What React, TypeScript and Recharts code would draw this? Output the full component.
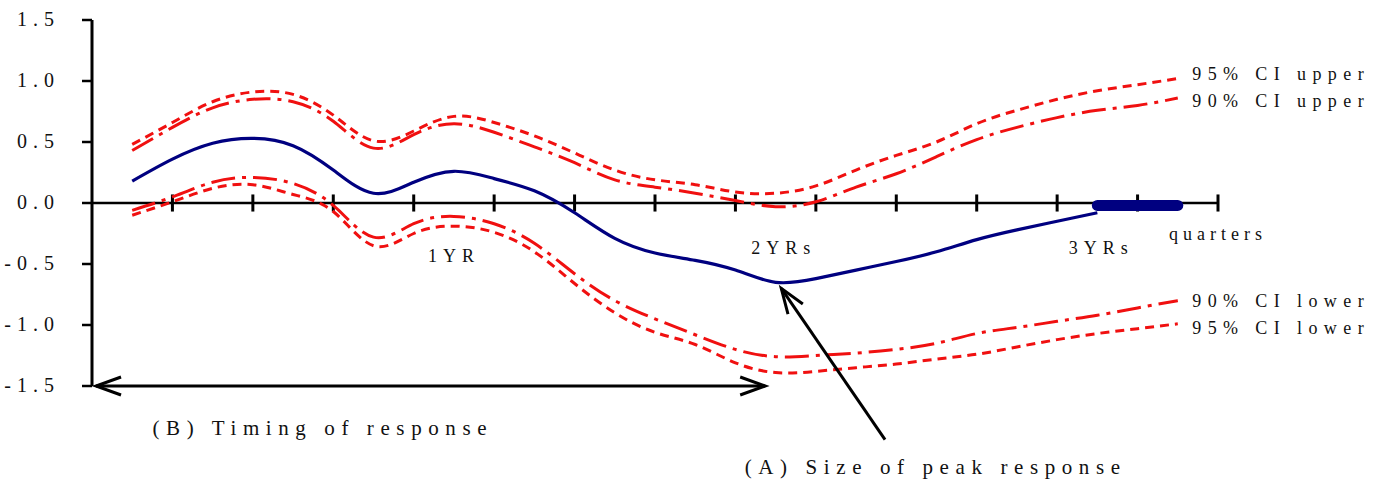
import React from "react";
import { LineChart, Line, XAxis, YAxis, ReferenceLine, ReferenceDot } from "recharts";

// horizon in quarters (half-quarter steps)
const quarters = [
  0.5, 1, 1.5, 2, 2.5, 3, 3.5, 4, 4.5, 5, 5.5, 6, 6.5, 7, 7.5, 8, 8.5, 9, 9.5, 10,
  10.5, 11, 11.5, 12, 12.5, 13, 13.5,
];

const response = [
  0.18, 0.36, 0.49, 0.53, 0.47, 0.27, 0.08, 0.17, 0.26, 0.2, 0.1, -0.08, -0.29, -0.41,
  -0.47, -0.55, -0.65, -0.62, -0.55, -0.48, -0.4, -0.3, -0.22, -0.15, -0.08,
];

const tail = [-0.02, -0.02, -0.02]; // quarters 12.5 - 13.5

const ci95Upper = [
  0.48, 0.66, 0.83, 0.91, 0.89, 0.72, 0.51, 0.59, 0.71, 0.66, 0.55, 0.41, 0.27, 0.19,
  0.15, 0.09, 0.08, 0.14, 0.27, 0.39, 0.5, 0.65, 0.76, 0.85, 0.92, 0.97, 1.02,
];
const ci90Upper = [
  0.43, 0.62, 0.78, 0.85, 0.83, 0.67, 0.45, 0.56, 0.65, 0.58, 0.46, 0.33, 0.19, 0.13,
  0.08, 0.02, -0.03, 0.01, 0.13, 0.24, 0.38, 0.52, 0.62, 0.7, 0.76, 0.8, 0.86,
];
const ci90Lower = [
  -0.06, 0.05, 0.17, 0.21, 0.16, -0.02, -0.28, -0.17, -0.11, -0.17, -0.33, -0.58, -0.8,
  -0.95, -1.08, -1.2, -1.26, -1.25, -1.23, -1.2, -1.15, -1.07, -1.02, -0.97, -0.92,
  -0.86, -0.8,
];
const ci95Lower = [
  -0.1, 0.01, 0.12, 0.15, 0.07, -0.07, -0.35, -0.25, -0.19, -0.24, -0.4, -0.66, -0.9,
  -1.06, -1.16, -1.31, -1.39, -1.38, -1.35, -1.32, -1.28, -1.24, -1.18, -1.12, -1.07,
  -1.03, -0.99,
];

const quarterTicks = [1, 2, 3, 4, 5, 6, 7, 8, 9, 10, 11, 12, 13, 14];
const yTicks = [-1.5, -1, -0.5, 0, 0.5, 1, 1.5];

const rows = quarters.map((q, i) => ({
  q,
  response: response[i] ?? null,
  tail: i >= 24 ? tail[i - 24] : null,
  ci95Upper: ci95Upper[i],
  ci90Upper: ci90Upper[i],
  ci90Lower: ci90Lower[i],
  ci95Lower: ci95Lower[i],
}));

const FONT = "'Liberation Serif', 'Times New Roman', serif";
const RED = "#f01010";

const YTick = (props: any) => {
  const { x, y, payload } = props;
  return (
    <text x={x} y={y} dx={6} dy={6} textAnchor="end" fontFamily={FONT} fontSize={20} fill="#111" letterSpacing={6}>
      {payload.value.toFixed(1)}
    </text>
  );
};

const textDot = (text: string, size: number, spacing: number, anchor = "middle") => (p: any) => (
  <text
    x={p.cx}
    y={p.cy}
    dy={size * 0.35}
    textAnchor={anchor}
    fontFamily={FONT}
    fontSize={size}
    fill="#111"
    letterSpacing={spacing}
  >
    {text}
  </text>
);

const head = (tx: number, ty: number, fx: number, fy: number) => {
  const len = 25;
  const half = 9;
  const dx = tx - fx;
  const dy = ty - fy;
  const d = Math.hypot(dx, dy) || 1;
  const ux = dx / d;
  const uy = dy / d;
  const bx = tx - ux * len;
  const by = ty - uy * len;
  return `M${bx - uy * half},${by + ux * half} L${tx},${ty} L${bx + uy * half},${by - ux * half}`;
};

const arrow = (both: boolean) => (p: any) => {
  const { x1, y1, x2, y2 } = p;
  return (
    <g>
      <line x1={x1} y1={y1} x2={x2} y2={y2} stroke="#000" strokeWidth={3} />
      <path d={head(x2, y2, x1, y1)} fill="none" stroke="#000" strokeWidth={3} />
      {both && <path d={head(x1, y1, x2, y2)} fill="none" stroke="#000" strokeWidth={3} />}
    </g>
  );
};

export default function App() {
  return (
    <div style={{ position: "absolute", left: 0, top: 0, background: "#fff" }}>
      <LineChart width={1389} height={481} data={rows} margin={{ top: 20, right: 171, bottom: 95, left: 0 }}>
        <XAxis type="number" dataKey="q" domain={[0, 14]} hide />
        <YAxis
          type="number"
          domain={[-1.5, 1.5]}
          ticks={yTicks}
          width={92}
          tickSize={10}
          tickMargin={28}
          axisLine={{ stroke: "#000", strokeWidth: 3 }}
          tickLine={{ stroke: "#000", strokeWidth: 2.5 }}
          tick={<YTick />}
          interval={0}
        />
        <ReferenceLine
          segment={[{ x: 0, y: 0 }, { x: 14, y: 0 }]}
          stroke="#000"
          strokeWidth={2.5}
          ifOverflow="visible"
        />
        {quarterTicks.map((t) => (
          <ReferenceLine
            key={t}
            segment={[{ x: t, y: -0.07 }, { x: t, y: 0.07 }]}
            stroke="#000"
            strokeWidth={3}
            ifOverflow="visible"
          />
        ))}

        <Line dataKey="ci95Upper" type="natural" stroke={RED} strokeWidth={3} strokeDasharray="9 6" dot={false} isAnimationActive={false} />
        <Line dataKey="ci90Upper" type="natural" stroke={RED} strokeWidth={3} strokeDasharray="24 7 4 7" dot={false} isAnimationActive={false} />
        <Line dataKey="ci90Lower" type="natural" stroke={RED} strokeWidth={3} strokeDasharray="24 7 4 7" dot={false} isAnimationActive={false} />
        <Line dataKey="ci95Lower" type="natural" stroke={RED} strokeWidth={3} strokeDasharray="9 6" dot={false} isAnimationActive={false} />
        <Line dataKey="response" type="natural" stroke="#000080" strokeWidth={3.2} dot={false} connectNulls={false} isAnimationActive={false} />
        <Line dataKey="tail" type="linear" stroke="#000080" strokeWidth={11} strokeLinecap="round" dot={false} isAnimationActive={false} />

        <ReferenceDot x={4.5} y={-0.43} r={1} ifOverflow="visible" shape={textDot("1YR", 18, 6)} />
        <ReferenceDot x={8.6} y={-0.37} r={1} ifOverflow="visible" shape={textDot("2YRs", 18, 6)} />
        <ReferenceDot x={12.55} y={-0.37} r={1} ifOverflow="visible" shape={textDot("3YRs", 18, 6)} />
        <ReferenceDot x={14} y={-0.25} r={1} ifOverflow="visible" shape={textDot("quarters", 18, 5)} />

        <ReferenceDot x={13.68} y={1.06} r={1} ifOverflow="visible" shape={textDot("95% CI upper", 18, 6.4, "start")} />
        <ReferenceDot x={13.68} y={0.84} r={1} ifOverflow="visible" shape={textDot("90% CI upper", 18, 6.4, "start")} />
        <ReferenceDot x={13.68} y={-0.8} r={1} ifOverflow="visible" shape={textDot("90% CI lower", 18, 6.4, "start")} />
        <ReferenceDot x={13.68} y={-1.02} r={1} ifOverflow="visible" shape={textDot("95% CI lower", 18, 6.4, "start")} />

        <ReferenceLine
          segment={[{ x: 0.05, y: -1.5 }, { x: 8.37, y: -1.5 }]}
          ifOverflow="visible"
          shape={arrow(true)}
        />
        <ReferenceDot x={2.87} y={-1.84} r={1} ifOverflow="visible" shape={textDot("(B) Timing of response", 21, 6.6)} />

        <ReferenceLine
          segment={[{ x: 9.86, y: -1.94 }, { x: 8.57, y: -0.7 }]}
          ifOverflow="visible"
          shape={arrow(false)}
        />
        <ReferenceDot x={10.49} y={-2.16} r={1} ifOverflow="visible" shape={textDot("(A) Size of peak response", 21, 6.6)} />
      </LineChart>
    </div>
  );
}
